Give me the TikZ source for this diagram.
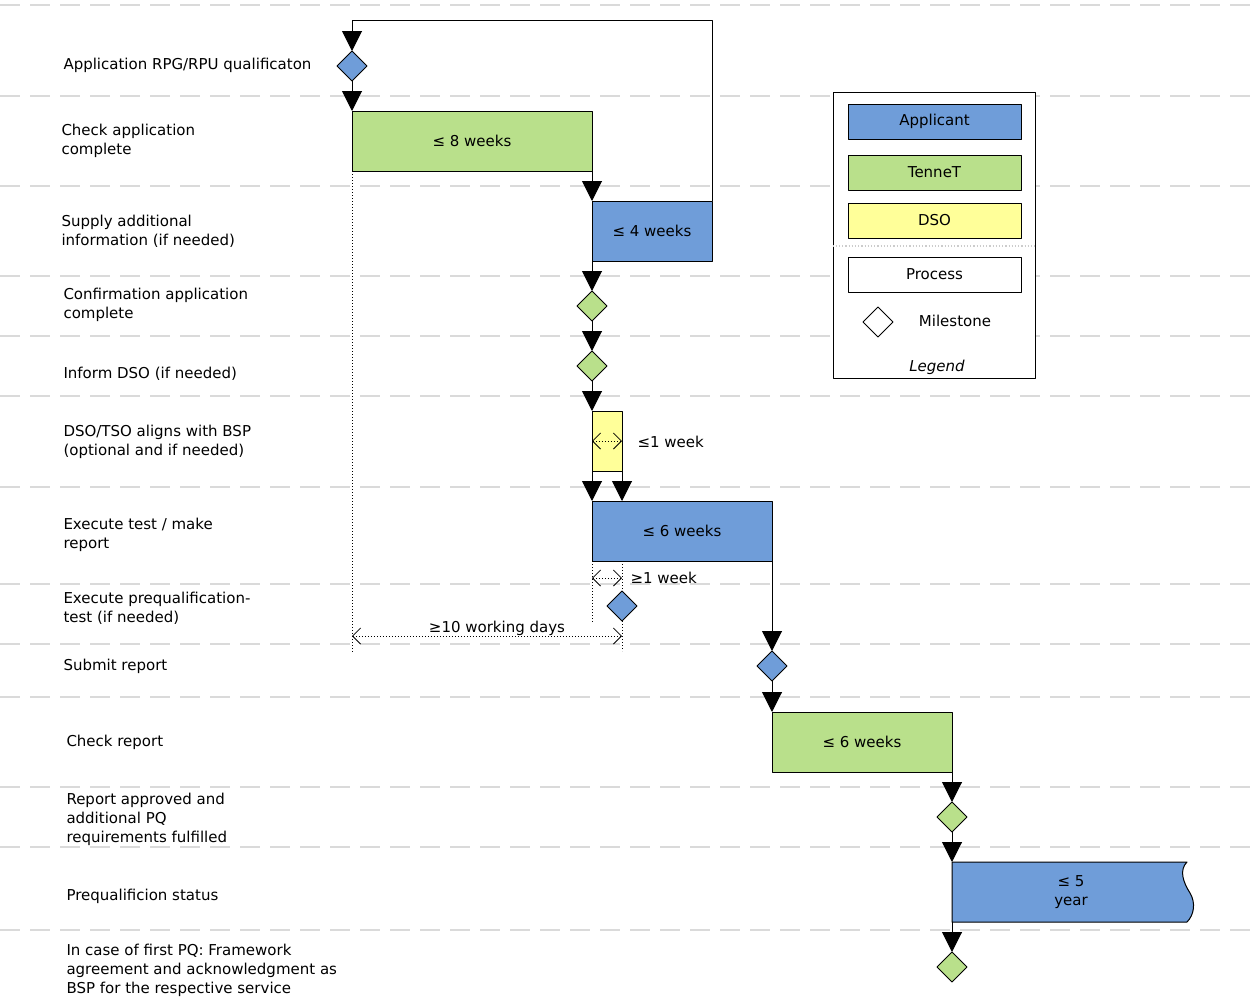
\documentclass[tikz,border=0pt]{standalone}
\usepackage{fontspec}
\setmainfont{DejaVu Sans}
\usetikzlibrary{arrows.meta,shapes.geometric}
\definecolor{appl}{HTML}{6F9DD9}
\definecolor{tnt}{HTML}{B9E08B}
\definecolor{dsoy}{HTML}{FFFF99}
\definecolor{rowgray}{HTML}{DADADA}
\begin{document}
\begin{tikzpicture}[x=1pt,y=-1pt,font=\fontsize{15}{19}\selectfont,line join=round,line width=1pt,
	arr/.style={-{Triangle[width=20pt,length=20pt]}},
	dim/.style={dotted,{Straight Barb[length=8pt,width=16pt,line width=0.8pt]}-{Straight Barb[length=8pt,width=16pt,line width=0.8pt]}},
	box/.style={draw,fill=#1,minimum height=60pt,inner sep=0pt,outer sep=0pt},
	ms/.style={diamond,draw,fill=#1,minimum width=30pt,minimum height=30pt,inner sep=0pt,outer sep=0pt},
	legbox/.style={draw,fill=#1,minimum width=173pt,minimum height=35pt,inner sep=0pt},
	lab/.style={anchor=west,align=left,inner sep=0pt},
	rowline/.style={rowgray,line width=1.5pt,dash pattern=on 20pt off 10pt}]
	\useasboundingbox (0,0) rectangle (1254,1007);
	\foreach \y in {5,96,186,276,336,396,487,584,644,697,787,847,930}{\draw[rowline] (0,\y)--(1254,\y);}
	\node[lab] (lapply) at (63,65) {Application RPG/RPU qualificaton};
	\node[lab] (lcheck) at (61,141) {Check application\\complete};
	\node[lab] (lsupply) at (61,231) {Supply additional\\information (if needed)};
	\node[lab] (lconf) at (63,305) {Confirmation application\\complete};
	\node[lab] (linform) at (63,374) {Inform DSO (if needed)};
	\node[lab] (lalign) at (63,442) {DSO/TSO aligns with BSP\\(optional and if needed)};
	\node[lab] (ltest) at (63,535) {Execute test / make\\report};
	\node[lab] (lpqtest) at (63,608) {Execute prequalification-\\test (if needed)};
	\node[lab] (lsubmit) at (63,666) {Submit report};
	\node[lab] (lcrep) at (66,742) {Check report};
	\node[lab] (lappr) at (66,819) {Report approved and\\additional PQ\\requirements fulfilled};
	\node[lab] (lstat) at (66,896) {Prequalificion status};
	\node[lab] (lfw) at (66,970) {In case of first PQ: Framework\\agreement and acknowledgment as\\BSP for the respective service};
	% dotted extension lines
	\draw[dotted] (352,171)--(352,652);
	\draw[dotted] (592,561)--(592,623);
	\draw[dotted] (622,561)--(622,651);
	\node[ms=appl] (apply) at (352,66) {};
	\node[box=tnt,minimum width=240pt] (check) at (472,141) {≤ 8 weeks};
	\node[box=appl,minimum width=120pt] (supply) at (652,231) {≤ 4 weeks};
	\node[ms=tnt] (conf) at (592,306) {};
	\node[ms=tnt] (inform) at (592,366) {};
	\node[box=dsoy,minimum width=30pt] (align) at (607,441) {};
	\node[box=appl,minimum width=180pt] (test) at (682,531) {≤ 6 weeks};
	\node[ms=appl] (pqtest) at (622,606) {};
	\node[ms=appl] (submit) at (772,666) {};
	\node[box=tnt,minimum width=180pt] (crep) at (862,742) {≤ 6 weeks};
	\node[ms=tnt] (appr) at (952,817) {};
	\filldraw[fill=appl] (952,862)--(1187,862) .. controls (1179,870) and (1183,882) .. (1190,893) .. controls (1196,903) and (1194,915) .. (1187,922)--(952,922)--cycle;
	\node[align=center,minimum width=238pt,minimum height=60pt,inner sep=0pt,outer sep=0pt] (stat) at (1071,892) {≤ 5\\year};
	\node[ms=tnt] (fw) at (952,967) {};
	\coordinate (loop) at (352,20);
	\draw[arr] (supply.north east) |- (loop) -- (apply.north);
	\draw[arr] (apply.south) -- (check.north west);
	\draw[arr] (check.south east) -- (supply.north west);
	\draw[arr] (supply.south west) -- (conf.north);
	\draw[arr] (conf.south) -- (inform.north);
	\draw[arr] (inform.south) -- (align.north west);
	\draw[arr] (align.south west) -- (test.north west);
	\draw[arr] (align.south east) -- (test.north west -| align.south east);
	\draw[arr] (test.south east) -- (submit.north);
	\draw[arr] (submit.south) -- (crep.north west);
	\draw[arr] (crep.south east) -- (appr.north);
	\draw[arr] (appr.south) -- (stat.north west);
	\draw[arr] (stat.south west) -- (fw.north);
	% durations
	\draw[dim] (align.west) -- (align.east);
	\node[lab] (wk1) at (637,442) {≤1 week};
	\coordinate (gapa) at (592,578);
	\coordinate (gapb) at (622,578);
	\draw[dim] (gapa) -- (gapb);
	\node[lab] (wk2) at (630,578) {≥1 week};
	\coordinate (daysa) at (352,636);
	\coordinate (daysb) at (622,636);
	\draw[dim] (daysa) -- (daysb);
	\node[inner sep=0pt] (days) at (497,628) {≥10 working days};
	% legend
	\node[draw,fill=white,minimum width=202pt,minimum height=286pt,inner sep=0pt] (legend) at (934,235) {};
	\node[legbox=appl] (lgapp) at (934.5,121.5) {Applicant};
	\node[legbox=tnt] (lgtnt) at (934.5,172.5) {TenneT};
	\node[legbox=dsoy] (lgdso) at (934.5,220.5) {DSO};
	\coordinate (sep) at (934,246);
	\draw[gray!40,dotted,line width=1.2pt] (legend.west |- sep) -- (legend.east |- sep);
	\node[legbox=white] (lgproc) at (934.5,274.5) {Process};
	\node[ms=white] (lgms) at (878,322) {};
	\node (lgmstxt) at (955,321) {Milestone};
	\node[font=\fontsize{15}{19}\selectfont\itshape] (lgtitle) at (937,367) {Legend};
\end{tikzpicture}
\end{document}
